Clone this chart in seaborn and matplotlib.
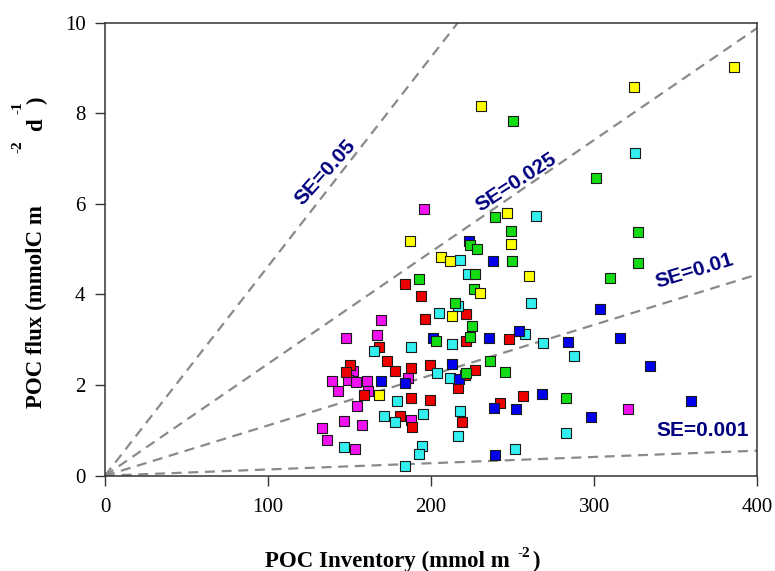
import numpy as np
import pandas as pd
import matplotlib
matplotlib.use("Agg")
import matplotlib.pyplot as plt
import seaborn as sns

# ---------------- data ----------------
yellow_x = [385.7, 324.2, 230.3, 246.3, 187.0, 248.9, 206.2, 211.3, 259.8, 230.1, 212.8, 168.0]
yellow_y = [9.02, 8.57, 8.16, 5.80, 5.18, 5.11, 4.82, 4.74, 4.41, 4.04, 3.53, 1.78]

green_x = [250.0, 300.9, 239.1, 248.7, 327.0, 223.8, 227.9, 226.9, 249.5, 327.0, 309.6, 192.3,
           226.4, 214.8, 225.2, 202.8, 223.8, 236.1, 221.3, 245.1, 282.8]
green_y = [7.82, 6.56, 5.71, 5.41, 5.37, 5.09, 5.00, 4.45, 4.74, 4.70, 4.37, 4.35,
           4.11, 3.82, 3.30, 2.98, 3.05, 2.54, 2.26, 2.28, 1.71]

blue_x = [223.2, 237.7, 303.7, 200.9, 235.6, 253.8, 283.7, 315.6, 334.3, 212.8, 169.2, 184.1,
          217.2, 268.1, 238.5, 251.8, 297.8, 359.3, 239.3]
blue_y = [5.18, 4.74, 3.67, 3.03, 3.03, 3.20, 2.94, 3.04, 2.42, 2.46, 2.09, 2.04,
          2.13, 1.80, 1.49, 1.47, 1.30, 1.65, 0.45]

cyan_x = [324.8, 264.1, 217.7, 222.7, 216.4, 261.2, 205.0, 257.7, 268.7, 287.7, 164.9, 187.8,
          212.6, 203.7, 211.3, 178.8, 217.7, 171.2, 177.6, 195.2, 216.6, 146.7, 194.2, 192.3,
          183.8, 282.6, 251.4]
cyan_y = [7.11, 5.73, 4.76, 4.45, 3.75, 3.80, 3.60, 3.13, 2.92, 2.65, 2.75, 2.84,
          2.90, 2.26, 2.16, 1.64, 1.43, 1.32, 1.18, 1.36, 0.88, 0.64, 0.66, 0.47,
          0.22, 0.95, 0.58]

red_x = [183.8, 193.6, 196.0, 221.3, 168.2, 221.3, 247.5, 172.7, 177.8, 187.9, 199.3, 150.2,
         147.8, 220.7, 226.9, 216.6, 159.0, 187.9, 199.3, 218.9, 180.9, 188.0, 242.2, 256.1]
red_y = [4.23, 3.97, 3.46, 3.56, 2.85, 2.98, 3.01, 2.53, 2.32, 2.38, 2.44, 2.44,
         2.29, 2.22, 2.33, 1.93, 1.78, 1.71, 1.67, 1.18, 1.32, 1.08, 1.61, 1.76]

magenta_x = [195.8, 169.0, 147.8, 166.8, 152.2, 139.4, 148.8, 153.7, 160.5, 185.6, 143.0, 161.1,
             154.3, 187.8, 146.7, 157.4, 132.9, 135.9, 153.5, 320.7]
magenta_y = [5.89, 3.44, 3.03, 3.10, 2.31, 2.10, 2.11, 2.07, 2.10, 2.16, 1.87, 1.87,
             1.54, 1.23, 1.21, 1.12, 1.05, 0.79, 0.60, 1.47]

se_labels = ["SE=0.05", "SE=0.025", "SE=0.01", "SE=0.001"]
se_slopes = [0.0462, 0.0247, 0.0111, 0.00138]

x_ticks = [0, 100, 200, 300, 400]
y_ticks = [0, 2, 4, 6, 8, 10]

# ---------------- build frame ----------------
groups = {
    "magenta": (magenta_x, magenta_y),
    "red": (red_x, red_y),
    "cyan": (cyan_x, cyan_y),
    "blue": (blue_x, blue_y),
    "green": (green_x, green_y),
    "yellow": (yellow_x, yellow_y),
}
rows = []
for g, (xs, ys) in groups.items():
    for a, b in zip(xs, ys):
        rows.append((g, a, b))
df = pd.DataFrame(rows, columns=["group", "inventory", "flux"])

palette = {"yellow": "#FFFF00", "green": "#14DC14", "blue": "#0000EE",
           "cyan": "#33F0F0", "red": "#EE0000", "magenta": "#F010F0"}

# ---------------- figure ----------------
sns.set_theme(style="white")
plt.rcParams["font.family"] = ["Liberation Serif", "DejaVu Serif"]

W, H = 775, 571
fig = plt.figure(figsize=(W / 100, H / 100), dpi=100)
ax = fig.add_axes([105 / W, 1 - 475.7 / H, (757.3 - 105) / W, (475.7 - 22.5) / H])

# reference lines
xl = np.array([0.0, 400.0])
for lab, sl in zip(se_labels, se_slopes):
    ln = pd.DataFrame({"x": xl, "y": xl * sl})
    sns.lineplot(data=ln, x="x", y="y", ax=ax, color="#8a8a8a", lw=1.6,
                 dashes=False, zorder=1)
for l in ax.lines:
    l.set_dashes((4.5, 3.0))

sns.scatterplot(data=df, x="inventory", y="flux", hue="group", palette=palette,
                marker="s", s=52, edgecolor="#1a1a1a", linewidth=0.8,
                legend=False, ax=ax, zorder=3)

ax.set_xlim(0, 400)
ax.set_ylim(0, 10)
ax.set_xticks(x_ticks)
ax.set_yticks(y_ticks)
ax.set_xticklabels([str(t) for t in x_ticks])
ax.set_yticklabels([str(t) for t in y_ticks])
ax.tick_params(axis="both", direction="out", length=7, width=1.0, color="#333333",
               labelsize=15, labelcolor="black")
ax.tick_params(axis="x", pad=9, bottom=True)
ax.tick_params(axis="y", pad=7, left=True)
for sp in ax.spines.values():
    sp.set_color("#333333")
    sp.set_linewidth(1.1)
ax.set_xlabel("")
ax.set_ylabel("")

# SE annotations
se_color = "#000080"
sfont = dict(family=["Liberation Sans", "DejaVu Sans"], weight="bold", size=15, color=se_color)
ax.text(134.9, 6.70, se_labels[0], rotation=48, ha="center", va="center",
        rotation_mode="anchor", **sfont)
ax.text(252.3, 6.48, se_labels[1], rotation=33, ha="center", va="center",
        rotation_mode="anchor", **sfont)
ax.text(361.7, 4.51, se_labels[2], rotation=17, ha="center", va="center",
        rotation_mode="anchor", **sfont)
ax.text(366.6, 0.99, se_labels[3], rotation=0, ha="center", va="center", **sfont)

# axis labels (pieces placed as in the original)
lfont = dict(family=["Liberation Serif", "DejaVu Serif"], weight="bold", color="black")

def fpos(px, py):
    return px / W, 1 - py / H

fig.text(*fpos(265, 567), "POC Inventory (mmol m", ha="left", va="baseline", size=16.5, **lfont)
fig.text(*fpos(517, 557), "-2", ha="left", va="baseline", size=11, **lfont)
fig.text(*fpos(532, 567), ")", ha="left", va="baseline", size=16.5, **lfont)

fig.text(*fpos(42, 408), "POC flux (mmolC m", ha="left", va="baseline", rotation=90,
         rotation_mode="anchor", size=16.5, **lfont)
fig.text(*fpos(21, 153), "-2", ha="left", va="baseline", rotation=90,
         rotation_mode="anchor", size=11, **lfont)
fig.text(*fpos(42, 131), "d", ha="left", va="baseline", rotation=90,
         rotation_mode="anchor", size=16.5, **lfont)
fig.text(*fpos(21, 114), "-1", ha="left", va="baseline", rotation=90,
         rotation_mode="anchor", size=11, **lfont)
fig.text(*fpos(42, 104), ")", ha="left", va="baseline", rotation=90,
         rotation_mode="anchor", size=16.5, **lfont)

fig.savefig("out.png", dpi=100)
